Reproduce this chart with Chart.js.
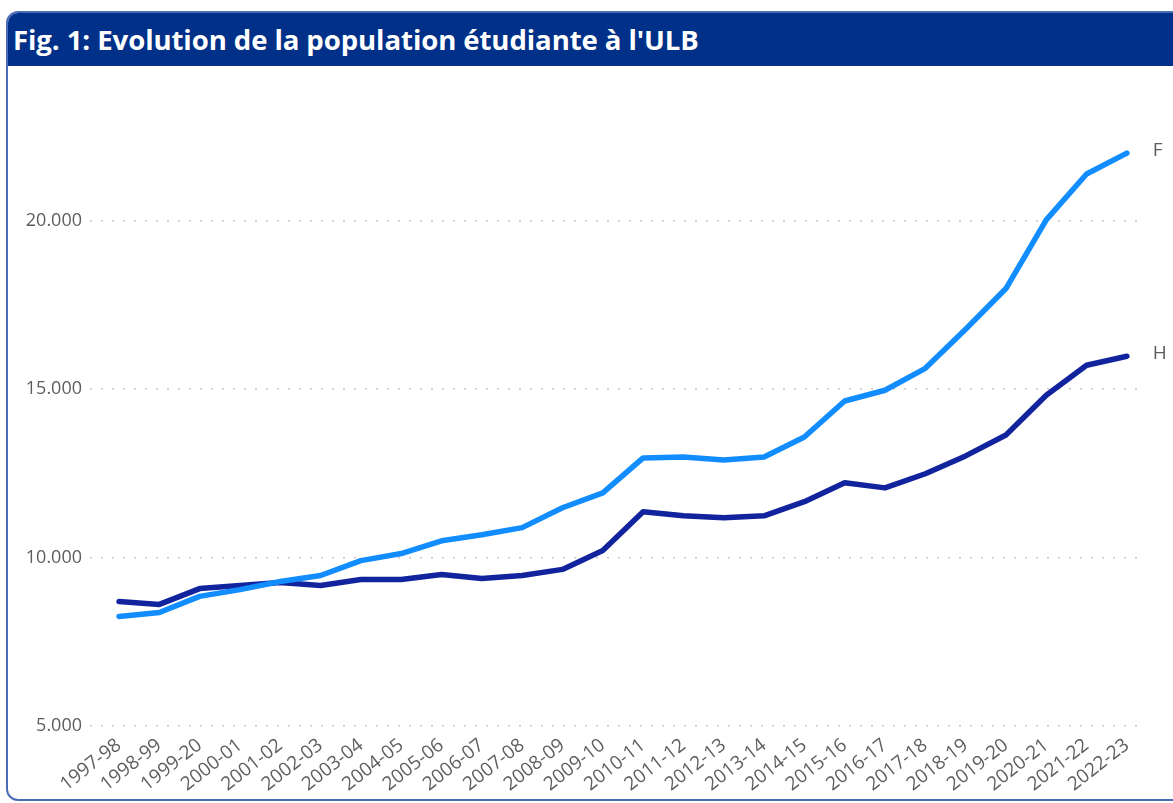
<!DOCTYPE html>
<html>
<head>
<meta charset="utf-8">
<script src="https://cdn.jsdelivr.net/npm/chart.js@4"></script>
<style>
  html, body { margin: 0; padding: 0; background: #fff; overflow: hidden; }
  body { width: 1173px; height: 803px; position: relative; }
  #panel {
    position: absolute; left: 6px; top: 11px; width: 1200px; height: 786px;
    border: 2px solid #4a6cb8; border-radius: 12px; overflow: hidden; background: #fff;
  }
  #title {
    height: 53px; background: #003087; color: #fff;
    font-family: "Open Sans", sans-serif; font-weight: 700; font-size: 27.6px;
    line-height: 53px; padding-left: 5px; white-space: nowrap; letter-spacing: -0.1px;
  }
  #chartBox { position: absolute; left: 8px; top: 68px; width: 1165px; height: 730px; }
</style>
</head>
<body>
<div id="panel"><div id="title">Fig. 1: Evolution de la population étudiante à l'ULB</div></div>
<div id="chartBox"><canvas id="c"></canvas></div>
<script>
const years = ['1997-98','1998-99','1999-20','2000-01','2001-02','2002-03','2003-04','2004-05',
  '2005-06','2006-07','2007-08','2008-09','2009-10','2010-11','2011-12','2012-13','2013-14',
  '2014-15','2015-16','2016-17','2017-18','2018-19','2019-20','2020-21','2021-22','2022-23']

// F = femmes, H = hommes
const femmes = [8250, 8370, 8850, 9050, 9290, 9470, 9910, 10120, 10500, 10680, 10890, 11480,
  11920, 12960, 12990, 12900, 12990, 13580, 14650, 14970, 15620, 16780, 17990, 20030, 21390, 22010]
const hommes = [8700, 8610, 9080, 9170, 9260, 9170, 9350, 9350, 9500, 9380, 9470, 9650,
  10210, 11360, 11240, 11180, 11240, 11660, 12220, 12070, 12490, 13020, 13640, 14820, 15710, 15980]

const yTicks = [5000, 10000, 15000, 20000]

const grey = '#605e5c'

// nom de la série à droite du dernier point
const endLabels = {
  id: 'endLabels',
  afterDatasetsDraw(chart) {
    const ctx = chart.ctx
    ctx.save()
    ctx.font = '19px "Open Sans"'
    ctx.fillStyle = grey
    ctx.textBaseline = 'middle'
    chart.data.datasets.forEach((ds, i) => {
      const pts = chart.getDatasetMeta(i).data
      const last = pts[pts.length - 1]
      ctx.fillText(ds.label, last.x + 26, last.y - 3)
    })
    ctx.restore()
  }
}

new Chart(document.getElementById('c'), {
  type: 'line',
  data: {
    datasets: [
      { label: 'F', data: femmes.map((v, i) => ({x: i, y: v})), borderColor: '#118dff', borderWidth: 5.5 },
      { label: 'H', data: hommes.map((v, i) => ({x: i, y: v})), borderColor: '#12239e', borderWidth: 5.5 }
    ]
  },
  options: {
    responsive: true,
    maintainAspectRatio: false,
    animation: false,
    layout: { padding: { top: 72, right: 30, left: 0, bottom: 0 } },
    elements: { point: { radius: 0 }, line: { borderJoinStyle: 'round', borderCapStyle: 'round', tension: 0 } },
    plugins: { legend: { display: false }, tooltip: { enabled: false } },
    scales: {
      x: {
        type: 'linear',
        min: -0.72,
        max: 25.4,
        afterBuildTicks: axis => { axis.ticks = years.map((y, i) => ({value: i})) },
        afterFit: axis => { axis.height = 72 },
        grid: { display: false },
        border: { display: false },
        ticks: {
          autoSkip: false,
          maxRotation: 38,
          minRotation: 38,
          padding: 0,
          color: grey,
          font: { family: 'Open Sans', size: 19 },
          callback: v => years[v]
        }
      },
      y: {
        min: 5000,
        max: 22400,
        afterBuildTicks: axis => { axis.ticks = yTicks.map(v => ({value: v})) },
        afterFit: axis => { axis.width = 82 },
        border: { display: false, dash: [2, 9] },
        grid: { color: '#c8c8c8', lineWidth: 1.5, drawTicks: false },
        ticks: {
          padding: 8,
          color: grey,
          font: { family: 'Open Sans', size: 18 },
          callback: v => v.toLocaleString('de-DE')
        }
      }
    }
  },
  plugins: [endLabels]
})
</script>
</body>
</html>
